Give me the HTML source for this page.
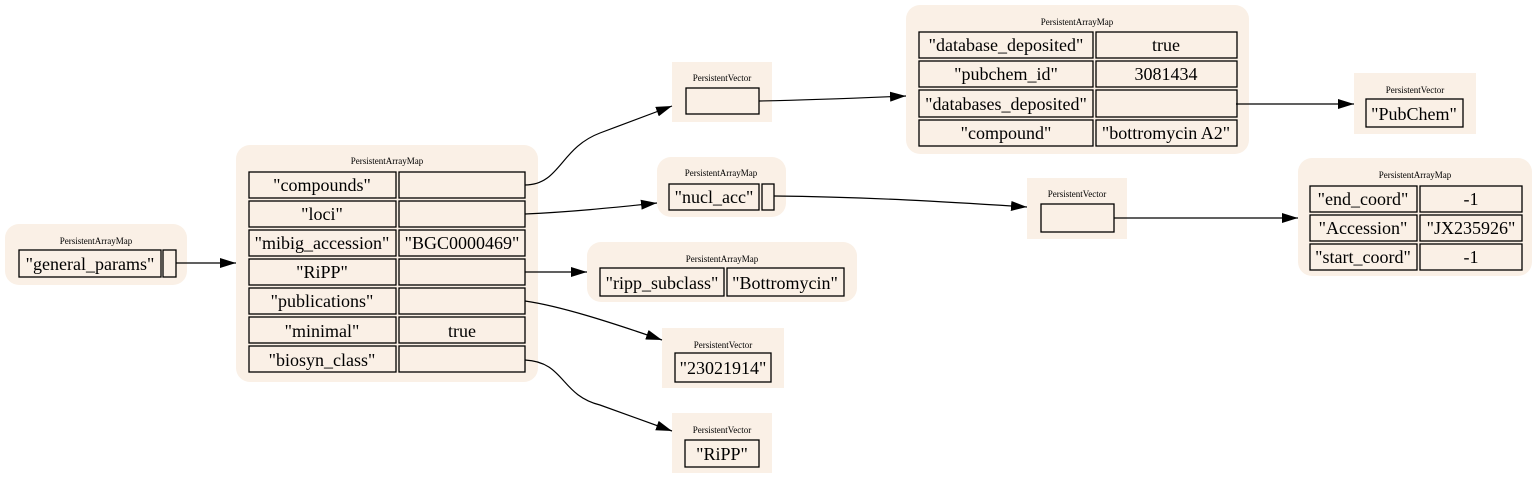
<!DOCTYPE html>
<html><head><meta charset="utf-8"><style>
html,body{margin:0;padding:0;background:#fff;}
text{font-family:"Liberation Serif","Times New Roman",Times,serif;fill:#000;}
.t{font-size:9px;text-anchor:middle;}
.c{font-size:18px;text-anchor:middle;}
.bg{fill:#faf0e6;stroke:none;}
.cell{fill:#faf0e6;stroke:#000;stroke-width:1.3;}
.e{fill:none;stroke:#000;stroke-width:1.2;}
</style></head><body>
<svg width="1537" height="480" viewBox="0 0 1537 480" xmlns="http://www.w3.org/2000/svg" font-family="Liberation Serif, serif">
<defs><marker id="b" markerWidth="16" markerHeight="10" refX="16" refY="5" orient="auto" markerUnits="userSpaceOnUse"><path d="M0,0 L16,5 L0,10 z" fill="#000"/></marker></defs>

<rect class="bg" x="5" y="224" width="182" height="61" rx="14"/>
<text class="t" x="96" y="244">PersistentArrayMap</text>
<rect class="cell" x="19" y="250" width="142" height="27"/><text class="c" x="90" y="270">"general_params"</text>
<rect class="cell" x="163" y="250" width="13" height="27"/>

<rect class="bg" x="236" y="145" width="302" height="237" rx="14"/>
<text class="t" x="387" y="164">PersistentArrayMap</text>
<g>
<rect class="cell" x="249" y="172" width="147" height="26"/><rect class="cell" x="399" y="172" width="126" height="26"/><text class="c" x="322" y="191">"compounds"</text>
<rect class="cell" x="249" y="201" width="147" height="26"/><rect class="cell" x="399" y="201" width="126" height="26"/><text class="c" x="322" y="220">"loci"</text>
<rect class="cell" x="249" y="230" width="147" height="26"/><rect class="cell" x="399" y="230" width="126" height="26"/><text class="c" x="322" y="249">"mibig_accession"</text><text class="c" x="462" y="249">"BGC0000469"</text>
<rect class="cell" x="249" y="259" width="147" height="26"/><rect class="cell" x="399" y="259" width="126" height="26"/><text class="c" x="322" y="278">"RiPP"</text>
<rect class="cell" x="249" y="288" width="147" height="26"/><rect class="cell" x="399" y="288" width="126" height="26"/><text class="c" x="322" y="307">"publications"</text>
<rect class="cell" x="249" y="317" width="147" height="26"/><rect class="cell" x="399" y="317" width="126" height="26"/><text class="c" x="322" y="337">"minimal"</text><text class="c" x="462" y="337">true</text>
<rect class="cell" x="249" y="346" width="147" height="26"/><rect class="cell" x="399" y="346" width="126" height="26"/><text class="c" x="322" y="366">"biosyn_class"</text>
</g>

<rect class="bg" x="672" y="62" width="100" height="60"/>
<text class="t" x="722" y="81">PersistentVector</text>
<rect class="cell" x="686" y="88" width="73" height="26"/>

<rect class="bg" x="906" y="5" width="343" height="149" rx="14"/>
<text class="t" x="1077" y="25">PersistentArrayMap</text>
<rect class="cell" x="919" y="32" width="174" height="26"/><rect class="cell" x="1096" y="32" width="141" height="26"/><text class="c" x="1006" y="51">"database_deposited"</text><text class="c" x="1166" y="51">true</text>
<rect class="cell" x="919" y="61" width="174" height="26"/><rect class="cell" x="1096" y="61" width="141" height="26"/><text class="c" x="1006" y="80">"pubchem_id"</text><text class="c" x="1166" y="80">3081434</text>
<rect class="cell" x="919" y="90" width="174" height="27"/><rect class="cell" x="1096" y="90" width="141" height="27"/><text class="c" x="1006" y="110">"databases_deposited"</text>
<rect class="cell" x="919" y="120" width="174" height="26"/><rect class="cell" x="1096" y="120" width="141" height="26"/><text class="c" x="1006" y="139">"compound"</text><text class="c" x="1166" y="139">"bottromycin A2"</text>

<rect class="bg" x="1354" y="73" width="122" height="61"/>
<text class="t" x="1415" y="93">PersistentVector</text>
<rect class="cell" x="1366" y="99" width="97" height="28"/><text class="c" x="1414" y="120">"PubChem"</text>

<rect class="bg" x="657" y="157" width="129" height="60" rx="14"/>
<text class="t" x="721" y="176">PersistentArrayMap</text>
<rect class="cell" x="669" y="184" width="90" height="26"/><text class="c" x="714" y="203">"nucl_acc"</text>
<rect class="cell" x="762" y="184" width="12" height="26"/>

<rect class="bg" x="1027" y="178" width="100" height="61"/>
<text class="t" x="1077" y="197">PersistentVector</text>
<rect class="cell" x="1041" y="204" width="73" height="28"/>

<rect class="bg" x="1298" y="158" width="234" height="118" rx="14"/>
<text class="t" x="1415" y="178">PersistentArrayMap</text>
<rect class="cell" x="1310" y="186" width="107" height="26"/><rect class="cell" x="1420" y="186" width="102" height="26"/><text class="c" x="1363" y="205">"end_coord"</text><text class="c" x="1471" y="205">-1</text>
<rect class="cell" x="1310" y="215" width="107" height="26"/><rect class="cell" x="1420" y="215" width="102" height="26"/><text class="c" x="1363" y="234">"Accession"</text><text class="c" x="1471" y="234">"JX235926"</text>
<rect class="cell" x="1310" y="244" width="107" height="26"/><rect class="cell" x="1420" y="244" width="102" height="26"/><text class="c" x="1363" y="263">"start_coord"</text><text class="c" x="1471" y="263">-1</text>

<rect class="bg" x="587" y="242" width="270" height="60" rx="14"/>
<text class="t" x="722" y="262">PersistentArrayMap</text>
<rect class="cell" x="600" y="268" width="124" height="28"/><text class="c" x="662" y="289">"ripp_subclass"</text>
<rect class="cell" x="727" y="268" width="117" height="28"/><text class="c" x="785" y="289">"Bottromycin"</text>

<rect class="bg" x="662" y="328" width="122" height="60"/>
<text class="t" x="723" y="348">PersistentVector</text>
<rect class="cell" x="675" y="353" width="96" height="29"/><text class="c" x="723" y="374">"23021914"</text>

<rect class="bg" x="672" y="413" width="100" height="60"/>
<text class="t" x="722" y="433">PersistentVector</text>
<rect class="cell" x="685" y="440" width="74" height="27"/><text class="c" x="722" y="460">"RiPP"</text>

<path class="e" marker-end="url(#b)" d="M176,263 L236,263"/>
<path class="e" marker-end="url(#b)" d="M525,185 C560,185 560,148 600,133 L672,106"/>
<path class="e" marker-end="url(#b)" d="M525,214 C570,212 610,208 657,203"/>
<path class="e" marker-end="url(#b)" d="M525,272 L587,272"/>
<path class="e" marker-end="url(#b)" d="M525,301 C560,306 610,322 662,340"/>
<path class="e" marker-end="url(#b)" d="M525,360 C565,362 560,395 600,405 L672,431"/>
<path class="e" marker-end="url(#b)" d="M759,101 C810,100 860,98 906,96"/>
<path class="e" marker-end="url(#b)" d="M1236,104 L1354,104"/>
<path class="e" marker-end="url(#b)" d="M774,196 C870,197 950,202 1027,207"/>
<path class="e" marker-end="url(#b)" d="M1114,218 L1298,218"/>
</svg>
</body></html>
